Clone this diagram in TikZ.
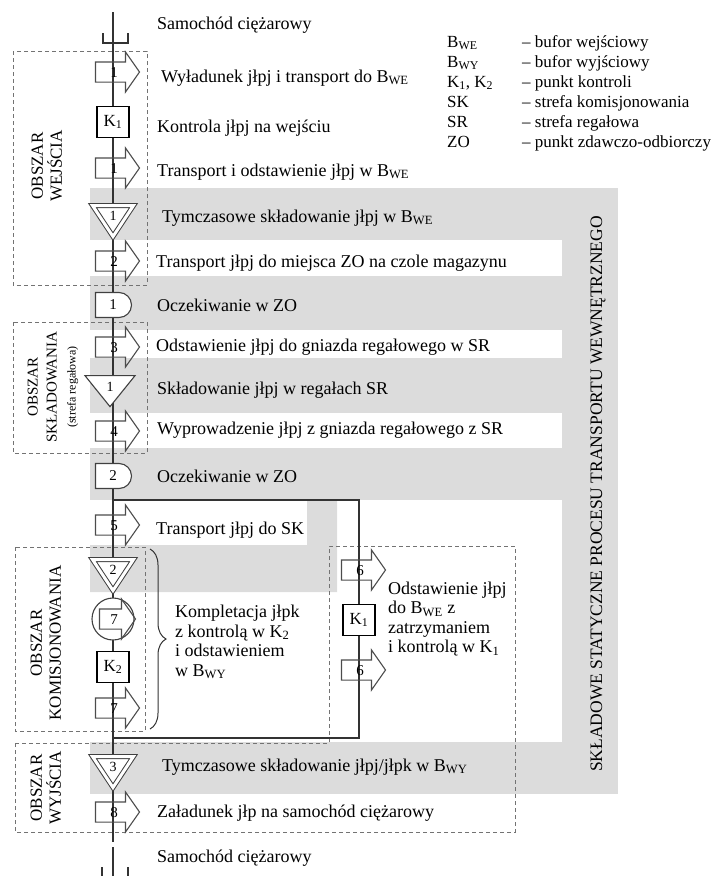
\documentclass[tikz,border=0pt]{standalone}
\usepackage{fontspec}
\setmainfont{Liberation Serif}
\usetikzlibrary{shapes,arrows,positioning,decorations.pathreplacing}

\definecolor{bandgray}{HTML}{DCDCDC}

\begin{document}
\begin{tikzpicture}[x=1pt, y=-1pt,
    flow/.style={draw=black!80, line width=1.4pt},
    area/.style={draw=black!55, line width=0.9pt, dash pattern=on 4pt off 3pt},
    tarrow/.style={single arrow, draw=black!70, line width=1.1pt, minimum height=44pt,
        single arrow head extend=10pt, single arrow tip angle=110, inner xsep=1pt, inner ysep=4pt,
        text height=11pt, text depth=0pt, font=\fontsize{15}{15}\selectfont},
    kbox/.style={draw=black, line width=1.6pt, fill=white, minimum width=32pt, minimum height=31pt,
        inner sep=0pt, font=\fontsize{17}{17}\selectfont},
    store/.style={isosceles triangle, shape border rotate=270, isosceles triangle stretches,
        draw=black!75, line width=1.1pt, fill=white, inner sep=0pt, minimum width=50pt, minimum height=31pt,
        font=\fontsize{14}{14}\selectfont},
    dstore/.style={store, line width=1pt, double, double distance=3pt, minimum width=41pt, minimum height=31pt},
    delay/.style={rounded rectangle, rounded rectangle left arc=none, draw=black!75, line width=1.1pt,
        fill=white, minimum width=36pt, minimum height=25pt, inner sep=0pt, font=\fontsize{15}{15}\selectfont},
    oper/.style={circle, draw=black!75, line width=1.1pt, fill=white, minimum size=42pt},
    desc/.style={anchor=west, inner sep=0pt, text height=12pt, text depth=4pt, font=\fontsize{18}{20}\selectfont},
    block/.style={anchor=west, inner sep=0pt, align=left, font=\fontsize{18}{19.5}\selectfont},
    areatext/.style={rotate=90, align=center, inner sep=0pt, font=\fontsize{17}{19}\selectfont},
    brace/.style={decorate, decoration={brace, amplitude=16pt}, draw=black!80, line width=1pt},
]
\useasboundingbox (0,0) rectangle (710,876);

% Gray bands
\fill[bandgray] (562,188) rectangle (618,794);
\fill[bandgray] (90,188) rectangle (562,240);
\fill[bandgray] (90,276) rectangle (562,330);
\fill[bandgray] (90,358) rectangle (562,413);
\fill[bandgray] (90,448) rectangle (562,500);
\fill[bandgray] (90,545) -- (307,545) -- (307,500) -- (337,500) -- (337,592) -- (90,592) -- cycle;
\fill[bandgray] (90,742) rectangle (562,794);

% Areas
\draw[area] (13,51) rectangle (147,285);
\draw[area] (13,322) rectangle (147,453);
\draw[area] (15,547) rectangle (145,731);
\draw[area] (15,743) -- (329,743) -- (329,546) -- (515,546) -- (515,832) -- (15,832) -- cycle;

% Main line and branch
\coordinate (top) at (113,12);
\coordinate (end) at (113,842);
\draw[flow] (top) -- (end);
\coordinate (split) at (113,500);
\coordinate (turn) at (359,500);
\coordinate (down) at (359,738);
\coordinate (join) at (113,738);
\draw[flow] (split) -- (turn) -- (down) -- (join);

% Trucks
\draw[flow] (103,33) -- (103,43) -- (128,43) -- (128,33);
\coordinate (trk) at (113,847);
\coordinate (trkend) at (113,877);
\draw[flow] (trk) -- (trkend);
\draw[flow] (102,867) -- (102,877) -- (128,877) -- (128,867);

% Symbols
\node[tarrow] (t1) at (114,72) {1};
\node[kbox] (k1) at (113,122) {K\textsubscript{1}};
\node[tarrow] (t1b) at (114,168) {1};
\node[dstore] (s1) at (113,216) {1};
\node[tarrow] (t2) at (114,261) {2};
\node[delay] (d1) at (113,305) {1};
\node[tarrow] (t3) at (114,347) {3};
\node[store] (r1) at (110,387) {1};
\node[tarrow] (t4) at (114,431) {4};
\node[delay] (d2) at (113,476) {2};
\node[tarrow] (t5) at (114,525) {5};
\node[dstore] (s2) at (113,570) {2};
\node[oper] (o7) at (113,619) {};
\node[tarrow, minimum height=36pt] (t7a) at (114,619) {7};
\node[kbox] (k2) at (113,667) {K\textsubscript{2}};
\node[tarrow] (t7) at (114,708) {7};
\node[dstore] (s3) at (113,767) {3};
\node[tarrow] (t8) at (114,812) {8};
\node[tarrow] (t6) at (360,570) {6};
\node[kbox] (k1b) at (359,620) {K\textsubscript{1}};
\node[tarrow] (t6b) at (360,670) {6};

% Brace
\coordinate (brA) at (150,549);
\coordinate (brB) at (150,729);
\draw[brace] (brA) -- (brB);

% Descriptions
\node[desc] (truckin) at (157,25) {Samochód ciężarowy};
\node[desc] (x1) at (161,78) {Wyładunek jłpj i transport do B\textsubscript{WE}};
\node[desc] (x2) at (157,128) {Kontrola jłpj na wejściu};
\node[desc] (x3) at (157,172) {Transport i odstawienie jłpj w B\textsubscript{WE}};
\node[desc] (x4) at (162,218) {Tymczasowe składowanie jłpj w B\textsubscript{WE}};
\node[desc] (x5) at (156,263) {Transport jłpj do miejsca ZO na czole magazynu};
\node[desc] (x6) at (157,307) {Oczekiwanie w ZO};
\node[desc] (x7) at (156,347) {Odstawienie jłpj do gniazda regałowego w SR};
\node[desc] (x8) at (157,390) {Składowanie jłpj w regałach SR};
\node[desc] (x9) at (157,430) {Wyprowadzenie jłpj z gniazda regałowego z SR};
\node[desc] (x10) at (157,478) {Oczekiwanie w ZO};
\node[desc] (x11) at (156,530) {Transport jłpj do SK};
\node[block] (x12) at (175,642) {Kompletacja jłpk\\z kontrolą w K\textsubscript{2}\\i odstawieniem\\w B\textsubscript{WY}};
\node[block] (x13) at (388,619) {Odstawienie jłpj\\do B\textsubscript{WE} z\\zatrzymaniem\\i kontrolą w K\textsubscript{1}};
\node[desc] (x14) at (162,767) {Tymczasowe składowanie jłpj/jłpk w B\textsubscript{WY}};
\node[desc] (x15) at (157,813) {Załadunek jłp na samochód ciężarowy};
\node[desc] (truckout) at (157,858) {Samochód ciężarowy};

% Area labels
\node[areatext] (awe) at (47,166) {OBSZAR\\WEJŚCIA};
\node[areatext, font=\fontsize{15}{19}\selectfont] (asr) at (53,387) {OBSZAR\\SKŁADOWANIA\\{\fontsize{12}{19}\selectfont (strefa regałowa)}};
\node[areatext] (ask) at (46,643) {OBSZAR\\KOMISJONOWANIA};
\node[areatext] (awy) at (46,788) {OBSZAR\\WYJŚCIA};
\node[rotate=90, inner sep=0pt, text height=12pt, text depth=0pt, font=\fontsize{17.5}{17.5}\selectfont] (static) at (596,494) {SKŁADOWE STATYCZNE PROCESU TRANSPORTU WEWNĘTRZNEGO};

% Legend
\node[anchor=north west, inner sep=0pt, font=\fontsize{17}{20}\selectfont] (legend) at (447,33) {%
  \begin{tabular}{@{}p{75pt}@{}l@{}}
  B\textsubscript{WE} & -- bufor wejściowy\\
  B\textsubscript{WY} & -- bufor wyjściowy\\
  K\textsubscript{1}, K\textsubscript{2} & -- punkt kontroli\\
  SK & -- strefa komisjonowania\\
  SR & -- strefa regałowa\\
  ZO & -- punkt zdawczo-odbiorczy
  \end{tabular}};

\end{tikzpicture}
\end{document}
